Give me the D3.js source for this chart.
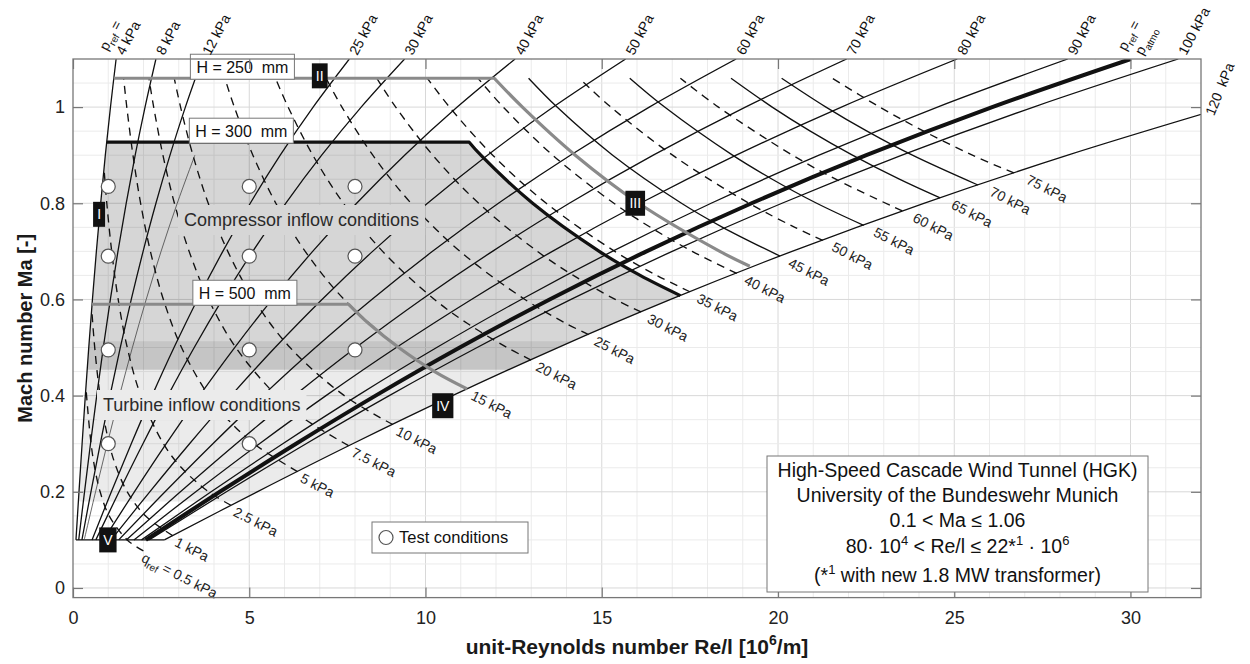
<!DOCTYPE html>
<html>
<head>
<meta charset="utf-8">
<script src="https://cdn.jsdelivr.net/npm/d3@7"></script>
<style>
  body { margin: 0; background: #fff; }
  svg { display: block; font-family: "Liberation Sans", Arial, sans-serif; }
</style>
</head>
<body>
<svg id="chart" width="1250" height="664"></svg>
<script>
// Mach levels shared by the p_ref curves
const machGrid = [0.1, 0.2, 0.3, 0.4, 0.5, 0.6, 0.7, 0.8, 0.9, 1.0, 1.1];

// constant reference pressure curves: Re/l [10^6/m] at each machGrid level
const prefNames = ["4 kPa", "8 kPa", "12 kPa", "", "25 kPa", "30 kPa", "40 kPa", "50 kPa",
  "60 kPa", "70 kPa", "80 kPa", "90 kPa", "p_atmo", "100 kPa", "120 kPa"];
const prefRe = [
  [0.084, 0.170, 0.258, 0.350, 0.447, 0.551, 0.663, 0.785, 0.917, 1.063, 1.223],
  [0.162, 0.327, 0.496, 0.673, 0.860, 1.060, 1.275, 1.509, 1.764, 2.044, 2.352],
  [0.253, 0.509, 0.774, 1.050, 1.341, 1.653, 1.989, 2.353, 2.752, 3.188, 3.669],
  [0.318, 0.640, 0.972, 1.319, 1.685, 2.077, 2.499, 2.957, 3.457],
  [0.540, 1.088, 1.653, 2.243, 2.866, 3.532, 4.250, 5.029, 5.879, 6.812, 7.839],
  [0.648, 1.306, 1.984, 2.692, 3.439, 4.239, 5.100, 6.034, 7.055, 8.175, 9.407],
  [0.864, 1.741, 2.645, 3.589, 4.586, 5.651, 6.799, 8.046, 9.407, 10.900, 12.542],
  [1.080, 2.177, 3.306, 4.486, 5.732, 7.064, 8.499, 10.057, 11.759, 13.624, 15.678],
  [1.296, 2.612, 3.968, 5.383, 6.879, 8.477, 10.199, 12.069, 14.110, 16.349, 18.813],
  [1.512, 3.047, 4.629, 6.280, 8.025, 9.890, 11.899, 14.080, 16.462, 19.074, 21.949],
  [1.728, 3.483, 5.290, 7.177, 9.172, 11.303, 13.599, 16.092, 18.814, 21.799, 25.084],
  [1.944, 3.918, 5.951, 8.074, 10.318, 12.715, 15.299, 18.103, 21.165, 24.524, 28.220],
  [2.067, 4.166, 6.328, 8.586, 10.972, 13.521, 16.268, 19.250, 22.506, 26.077, 30.007],
  [2.160, 4.353, 6.613, 8.972, 11.465, 14.128, 16.998, 20.114, 23.517, 27.249, 31.355],
  [2.592, 5.224, 7.935, 10.766, 13.758, 16.954, 20.398, 24.137, 28.221, 32.699]
];

// constant dynamic pressure curves, [Re/l, Ma] pairs from the 120 kPa end upwards
const qNames = ["0.5 kPa", "1 kPa", "2.5 kPa", "5 kPa", "7.5 kPa", "10 kPa", "15 kPa", "20 kPa",
  "25 kPa", "30 kPa", "35 kPa", "40 kPa", "45 kPa", "50 kPa", "55 kPa", "60 kPa", "65 kPa", "70 kPa", "75 kPa"];
const qSolid = [false, false, false, false, false, false, false, false,
  false, false, false, false, true, false, true, false, true, true, false];
const qPoints = [
  [[1.997, 0.077], [1.539, 0.1], [1.026, 0.15], [0.770, 0.2], [0.616, 0.25], [0.513, 0.3], [0.385, 0.4], [0.368, 0.419]],
  [[2.826, 0.109], [2.053, 0.15], [1.539, 0.2], [1.232, 0.25], [1.026, 0.3], [0.770, 0.4], [0.616, 0.5], [0.531, 0.580]],
  [[4.480, 0.172], [3.848, 0.2], [3.079, 0.25], [2.566, 0.3], [1.924, 0.4], [1.539, 0.5], [1.282, 0.6], [1.098, 0.7], [0.959, 0.8], [0.880, 0.872]],
  [[6.368, 0.242], [5.131, 0.3], [4.399, 0.35], [3.849, 0.4], [3.079, 0.5], [2.564, 0.6], [2.196, 0.7], [1.918, 0.8], [1.701, 0.9], [1.526, 1.0], [1.436, 1.06]],
  [[7.816, 0.296], [6.598, 0.35], [5.773, 0.4], [4.618, 0.5], [3.846, 0.6], [3.294, 0.7], [2.877, 0.8], [2.551, 0.9], [2.289, 1.0], [2.154, 1.06]],
  [[9.070, 0.340], [7.697, 0.4], [6.157, 0.5], [5.128, 0.6], [4.391, 0.7], [3.836, 0.8], [3.402, 0.9], [3.052, 1.0], [2.872, 1.06]],
  [[11.176, 0.414], [10.262, 0.45], [9.236, 0.5], [7.692, 0.6], [6.587, 0.7], [5.754, 0.8], [5.103, 0.9], [4.577, 1.0], [4.308, 1.06]],
  [[12.995, 0.474], [12.314, 0.5], [11.192, 0.55], [10.256, 0.6], [8.783, 0.7], [7.672, 0.8], [6.804, 0.9], [6.103, 1.0], [5.744, 1.06]],
  [[14.623, 0.527], [13.990, 0.55], [12.820, 0.6], [10.979, 0.7], [9.590, 0.8], [8.505, 0.9], [7.629, 1.0], [7.180, 1.06]],
  [[16.114, 0.574], [15.383, 0.6], [14.195, 0.65], [13.174, 0.7], [11.508, 0.8], [10.206, 0.9], [9.155, 1.0], [8.616, 1.06]],
  [[17.501, 0.616], [16.561, 0.65], [15.370, 0.7], [13.426, 0.8], [11.907, 0.9], [10.681, 1.0], [10.052, 1.06]],
  [[18.830, 0.654], [17.566, 0.7], [16.382, 0.75], [15.344, 0.8], [13.608, 0.9], [12.206, 1.0], [11.488, 1.06]],
  [[20.058, 0.690], [18.430, 0.75], [17.262, 0.8], [15.309, 0.9], [13.732, 1.0], [12.924, 1.06]],
  [[21.270, 0.723], [20.478, 0.75], [19.180, 0.8], [17.010, 0.9], [15.258, 1.0], [14.360, 1.06]],
  [[22.432, 0.754], [21.098, 0.8], [19.836, 0.85], [18.710, 0.9], [16.784, 1.0], [15.795, 1.06]],
  [[23.526, 0.784], [21.640, 0.85], [20.411, 0.9], [18.310, 1.0], [17.231, 1.06]],
  [[24.600, 0.811], [23.443, 0.85], [22.112, 0.9], [20.916, 0.95], [19.835, 1.0], [18.667, 1.06]],
  [[25.671, 0.838], [23.813, 0.9], [22.525, 0.95], [21.361, 1.0], [20.103, 1.06]],
  [[26.691, 0.863], [25.514, 0.9], [24.134, 0.95], [22.887, 1.0], [21.539, 1.06]]
];

// test section height limits: horizontal start, corner, then the slanted branch
const limitNames = ["H = 250 mm", "H = 300 mm", "H = 500 mm"];
const limitPoints = [
  [[1.157, 1.06], [11.95, 1.06], [12.75, 1.0], [14.25, 0.9], [16.05, 0.8], [18.35, 0.7], [19.2, 0.669]],
  [[0.956, 0.927], [11.24, 0.927], [11.57, 0.9], [13.04, 0.8], [14.93, 0.7], [16.09, 0.65], [17.23, 0.608]],
  [[0.54, 0.59], [7.82, 0.59], [8.39, 0.55], [9.24, 0.5], [10.26, 0.45], [11.18, 0.414]]
];
const limitLabelRe = [3.33, 3.30, 3.40];

// shaded operating ranges
const compressorArea = [[0.402, 0.454], [0.447, 0.5], [0.551, 0.6], [0.663, 0.7], [0.785, 0.8], [0.917, 0.9],
  [0.956, 0.927], [11.24, 0.927], [11.57, 0.9], [12.25, 0.85], [13.04, 0.8], [13.93, 0.75], [14.93, 0.7],
  [16.09, 0.65], [17.23, 0.608], [16.954, 0.6], [13.758, 0.5], [12.359, 0.454]];
const turbineArea = [[0.153, 0.18], [0.170, 0.2], [0.258, 0.3], [0.350, 0.4], [0.447, 0.5], [0.460, 0.513],
  [14.161, 0.513], [13.758, 0.5], [10.766, 0.4], [7.935, 0.3], [5.224, 0.2], [4.693, 0.18]];

// test conditions
const testRe = [1, 1, 1, 1, 5, 5, 5, 5, 8, 8, 8];
const testMa = [0.835, 0.69, 0.495, 0.3, 0.835, 0.69, 0.495, 0.3, 0.835, 0.69, 0.495];

// corner markers
const markerNames = ["I", "II", "III", "IV", "V"];
const markerRe = [0.74, 7.0, 15.95, 10.49, 0.99];
const markerMa = [0.777, 1.065, 0.8, 0.379, 0.1];

const xTicks = [0, 5, 10, 15, 20, 25, 30];
const yTicks = [0, 0.2, 0.4, 0.6, 0.8, 1];

const svg = d3.select("#chart");
const x = d3.scaleLinear().domain([0, 32]).range([73, 1201]);
const y = d3.scaleLinear().domain([-0.02, 1.1]).range([597.6, 59]);
const [plotL, plotR] = x.range();
const [plotB, plotT] = y.range();

svg.append("defs").append("clipPath").attr("id", "plot")
  .append("rect").attr("x", plotL).attr("y", plotT).attr("width", plotR - plotL).attr("height", plotB - plotT);

// grid
const grid = svg.append("g");
grid.selectAll(".gx").data(d3.range(1, 32)).join("line").attr("class", "gx")
  .attr("x1", d => x(d)).attr("x2", d => x(d)).attr("y1", plotT).attr("y2", plotB)
  .attr("stroke", d => d % 5 === 0 ? "#d8d8d8" : "#ebebeb");
grid.selectAll(".gy").data(d3.range(0, 22)).join("line").attr("class", "gy")
  .attr("x1", plotL).attr("x2", plotR).attr("y1", d => y(d * 0.05)).attr("y2", d => y(d * 0.05))
  .attr("stroke", d => d % 4 === 0 ? "#d8d8d8" : "#ebebeb");

const poly = d3.line().x(d => x(d[0])).y(d => y(d[1]));
const curve = d3.line().x(d => x(d[0])).y(d => y(d[1])).curve(d3.curveCatmullRom.alpha(0.5));

svg.append("path").attr("d", poly(compressorArea) + "Z").attr("fill", "#000").attr("fill-opacity", 0.16);
svg.append("path").attr("d", poly(turbineArea) + "Z").attr("fill", "#000").attr("fill-opacity", 0.08);

const lines = svg.append("g").attr("clip-path", "url(#plot)");

// Ma = 0.1 base line
lines.append("path")
  .attr("d", poly([[prefRe[0][0], 0.1], [prefRe[prefRe.length - 1][0], 0.1]]))
  .attr("stroke", "#111").attr("stroke-width", 1.4);

prefRe.forEach((re, i) => {
  const name = prefNames[i];
  lines.append("path")
    .attr("d", curve(re.map((r, j) => [r, machGrid[j]])))
    .attr("fill", "none")
    .attr("stroke", name === "" ? "#444" : "#111")
    .attr("stroke-width", name === "p_atmo" ? 4 : (name === "" ? 0.8 : 1.3));
});

qPoints.forEach((pts, i) => {
  lines.append("path")
    .attr("d", curve(pts))
    .attr("fill", "none")
    .attr("stroke", "#111")
    .attr("stroke-width", 1.35)
    .attr("stroke-dasharray", qSolid[i] ? null : "8,6");
});

limitPoints.forEach((pts, i) => {
  const colour = i === 1 ? "#111" : "#8a8a8a";
  lines.append("path")
    .attr("d", poly(pts.slice(0, 2)) + curve(pts.slice(1)).replace(/^M[^C]*/, ""))
    .attr("fill", "none")
    .attr("stroke", colour)
    .attr("stroke-width", 3.2)
    .attr("stroke-linejoin", "round");
});

// region captions with background
function caption(txt, px, py, bg) {
  const g = svg.append("g");
  const r = g.append("rect").attr("fill", bg);
  const t = g.append("text").attr("x", px).attr("y", py)
    .attr("font-size", 18).attr("fill", "#2a2a2a").text(txt);
  const b = t.node().getBBox();
  r.attr("x", b.x - 6).attr("y", b.y - 5).attr("width", b.width + 12).attr("height", b.height + 10);
}
caption("Compressor inflow conditions", 184, 226, "#d6d6d6");
caption("Turbine inflow conditions", 103, 411, "#ebebeb");

// height limit labels
limitNames.forEach((name, i) => {
  const ly = y(limitPoints[i][0][1]) + 1;
  const g = svg.append("g");
  const r = g.append("rect").attr("fill", "#fff").attr("stroke", "#777").attr("stroke-width", 1);
  const t = g.append("text").attr("x", x(limitLabelRe[i]) + 6).attr("y", ly - 6)
    .attr("font-size", 16).attr("fill", "#111").attr("xml:space", "preserve").text(name.replace(" mm", "  mm"));
  const w = t.node().getComputedTextLength();
  r.attr("x", x(limitLabelRe[i])).attr("y", ly - 25).attr("width", w + 12).attr("height", 25);
});

// test condition markers
svg.selectAll(".tc").data(testRe).join("circle").attr("class", "tc")
  .attr("cx", d => x(d)).attr("cy", (d, i) => y(testMa[i])).attr("r", 7)
  .attr("fill", "#fff").attr("stroke", "#555").attr("stroke-width", 1.2);

// roman numeral markers
markerNames.forEach((name, i) => {
  const g = svg.append("g").attr("transform", `translate(${x(markerRe[i])},${y(markerMa[i])})`);
  const r = g.append("rect").attr("fill", "#111");
  const t = g.append("text").attr("text-anchor", "middle").attr("dy", "0.36em")
    .attr("font-size", 14).attr("fill", "#fff").text(name);
  const w = Math.max(12, t.node().getComputedTextLength() + 8);
  r.attr("x", -w / 2).attr("y", -12.5).attr("width", w).attr("height", 25);
});

// q labels at the 120 kPa end
const qLab = svg.append("g").attr("font-size", 14).attr("fill", "#222");
qPoints.forEach((pts, i) => {
  const [re, ma] = pts[0];
  const q = parseFloat(qNames[i]);
  const gap = i === 0 ? 1 : 5 + 0.14 * q;
  const t = qLab.append("text")
    .attr("transform", `translate(${x(re) + gap - 4},${y(ma) + 10}) rotate(27)`);
  if (i === 0) {
    t.append("tspan").text("q");
    t.append("tspan").attr("font-size", 10).attr("dy", 4).text("ref");
    t.append("tspan").attr("dy", -4).text(" = " + qNames[i]);
  } else {
    t.text(qNames[i]);
  }
});

// p_ref labels at the top and right
const pLab = svg.append("g").attr("font-size", 14).attr("fill", "#111");
function prefText(sel, name) {
  sel.append("tspan").text("p");
  sel.append("tspan").attr("font-size", 10).attr("dy", 4).text(name);
  sel.append("tspan").attr("dy", -4).text(name === "ref" ? " =" : "");
}
prefRe.forEach((re, i) => {
  const name = prefNames[i];
  if (!name) return;
  if (name === "120 kPa") {
    const a = re[re.length - 2], b = re[re.length - 1];
    const ma = machGrid[re.length - 2] + (32 - a) / (b - a) * (machGrid[re.length - 1] - machGrid[re.length - 2]);
    pLab.append("text").attr("xml:space", "preserve")
      .attr("transform", `translate(${plotR + 13},${y(ma) + 2}) rotate(-68)`)
      .text("120  kPa");
    return;
  }
  const g = pLab.append("g")
    .attr("transform", `translate(${x(re[re.length - 1]) + (name === "p_atmo" ? 12 : 8)},56) rotate(-62)`);
  if (name === "p_atmo") {
    prefText(g.append("text"), "atmo");
    prefText(g.append("text").attr("y", -17).attr("x", -4), "ref");
  } else {
    g.append("text").text(name);
    if (i === 0) prefText(g.append("text").attr("y", -17).attr("x", -4), "ref");
  }
});

// axes
const axisStyle = g => {
  g.select(".domain").remove();
  g.selectAll(".tick line").attr("stroke", "#777").attr("stroke-width", 1.2);
  g.selectAll(".tick text").attr("font-size", 18).attr("fill", "#222")
    .attr("font-family", "'Liberation Sans', Arial, sans-serif");
};
svg.append("g").attr("transform", `translate(0,${plotB})`)
  .call(d3.axisBottom(x).tickValues(xTicks).tickSize(-10).tickSizeOuter(0).tickPadding(14)).call(axisStyle);
svg.append("g").attr("transform", `translate(0,${plotT})`)
  .call(d3.axisTop(x).tickValues(xTicks).tickSize(-10).tickSizeOuter(0).tickFormat("")).call(axisStyle);
svg.append("g").attr("transform", `translate(${plotL},0)`)
  .call(d3.axisLeft(y).tickValues(yTicks).tickSize(-10).tickSizeOuter(0).tickPadding(8).tickFormat(d3.format("~g"))).call(axisStyle);
svg.append("g").attr("transform", `translate(${plotR},0)`)
  .call(d3.axisRight(y).tickValues(yTicks).tickSize(-10).tickSizeOuter(0).tickFormat("")).call(axisStyle);

svg.append("rect").attr("x", plotL).attr("y", plotT).attr("width", plotR - plotL).attr("height", plotB - plotT)
  .attr("fill", "none").attr("stroke", "#777").attr("stroke-width", 1.3);

// legend
const leg = svg.append("g");
leg.append("rect").attr("x", 372).attr("y", 522).attr("width", 156).attr("height", 31)
  .attr("fill", "#fff").attr("stroke", "#777");
leg.append("circle").attr("cx", 386).attr("cy", 537.5).attr("r", 7).attr("fill", "#fff").attr("stroke", "#555").attr("stroke-width", 1.2);
leg.append("text").attr("x", 399).attr("y", 543).attr("font-size", 16.5).attr("fill", "#111").text("Test conditions");

// info box
const info = svg.append("g").attr("font-size", 19.5).attr("fill", "#111").attr("text-anchor", "middle");
info.append("rect").attr("x", 767).attr("y", 456).attr("width", 381).attr("height", 136)
  .attr("fill", "#fff").attr("stroke", "#777");
const cx = 957.5;
info.append("text").attr("x", cx).attr("y", 477).text("High-Speed Cascade Wind Tunnel (HGK)");
info.append("text").attr("x", cx).attr("y", 502).text("University of the Bundeswehr Munich");
info.append("text").attr("x", cx).attr("y", 527).text("0.1 < Ma \u2264 1.06");
const l4 = info.append("text").attr("x", cx).attr("y", 553);
l4.append("tspan").text("80\u00b7 10");
l4.append("tspan").attr("font-size", 13).attr("dy", -8).text("4");
l4.append("tspan").attr("dy", 8).text(" < Re/l \u2264 22*");
l4.append("tspan").attr("font-size", 13).attr("dy", -8).text("1");
l4.append("tspan").attr("dy", 8).text(" \u00b7 10");
l4.append("tspan").attr("font-size", 13).attr("dy", -8).text("6");
const l5 = info.append("text").attr("x", cx).attr("y", 582);
l5.append("tspan").text("(*");
l5.append("tspan").attr("font-size", 13).attr("dy", -8).text("1");
l5.append("tspan").attr("dy", 8).text(" with new 1.8 MW transformer)");

// axis titles
const xt = svg.append("text").attr("x", (plotL + plotR) / 2).attr("y", 654).attr("text-anchor", "middle")
  .attr("font-size", 21).attr("font-weight", "bold").attr("fill", "#1a1a1a");
xt.append("tspan").text("unit-Reynolds number Re/l [10");
xt.append("tspan").attr("font-size", 14).attr("dy", -9).text("6");
xt.append("tspan").attr("dy", 9).text("/m]");
svg.append("text").attr("transform", `translate(32,${(plotT + plotB) / 2}) rotate(-90)`)
  .attr("text-anchor", "middle").attr("font-size", 20).attr("font-weight", "bold").attr("fill", "#1a1a1a")
  .text("Mach number Ma [-]");
</script>
</body>
</html>
